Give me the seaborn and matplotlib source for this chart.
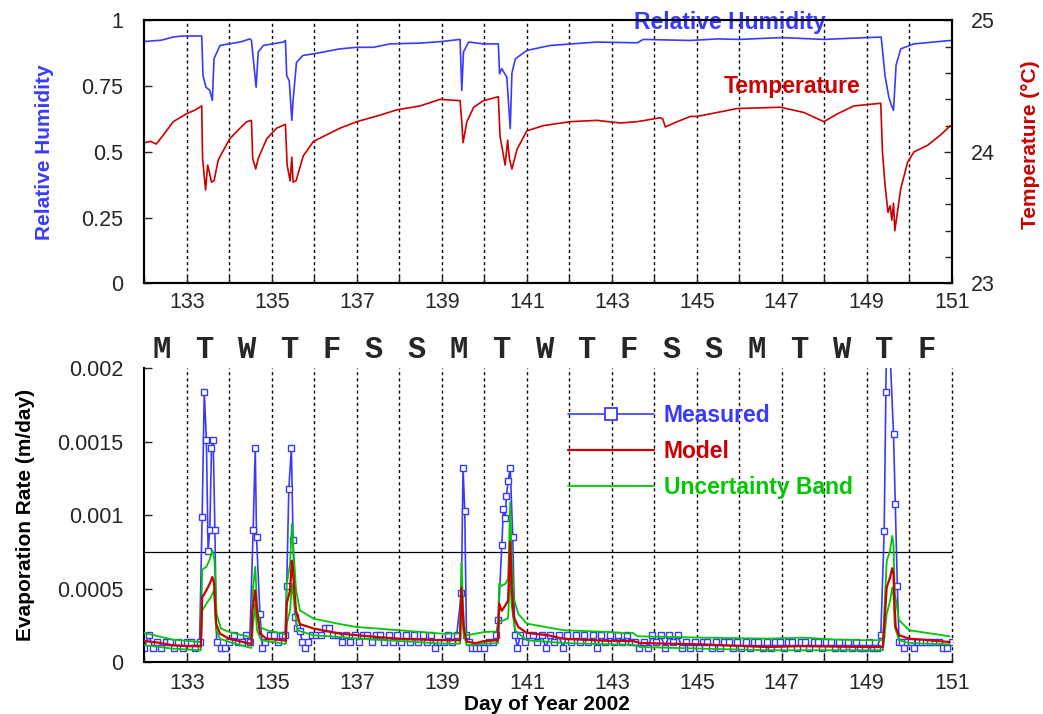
import numpy as np
import pandas as pd
import matplotlib
matplotlib.use("Agg")
import matplotlib.pyplot as plt
import matplotlib.transforms as mtransforms
from matplotlib.lines import Line2D
import seaborn as sns

# ---------------- data ----------------
rh_day = [132.0, 132.4, 132.68, 132.9, 133.35, 133.38, 133.45, 133.54, 133.6, 133.64,
          133.78, 134.0, 134.3, 134.48, 134.52, 134.63, 134.68, 134.8, 135.27, 135.32,
          135.35, 135.41, 135.47, 135.5, 135.58, 135.73, 135.98, 136.6, 137.0, 137.39,
          137.78, 138.49, 139.0, 139.43, 139.47, 139.51, 139.63, 139.98, 140.33, 140.36,
          140.41, 140.53, 140.61, 140.65, 140.73, 141.0, 141.55, 142.65, 143.6, 143.74,
          144.85, 145.5, 146.0, 147.0, 148.0, 149.0, 149.34, 149.43, 149.52, 149.58,
          149.63, 149.69, 149.8, 150.11, 150.97]
rh_val = [0.920, 0.925, 0.937, 0.941, 0.941, 0.79, 0.746, 0.734, 0.696, 0.855,
          0.905, 0.911, 0.920, 0.930, 0.925, 0.746, 0.88, 0.905, 0.918, 0.924,
          0.79, 0.77, 0.62, 0.696, 0.84, 0.867, 0.873, 0.892, 0.898, 0.898,
          0.911, 0.914, 0.920, 0.928, 0.734, 0.88, 0.918, 0.911, 0.911, 0.797,
          0.817, 0.784, 0.589, 0.80, 0.854, 0.886, 0.905, 0.918, 0.915, 0.928,
          0.924, 0.930, 0.928, 0.935, 0.928, 0.935, 0.937, 0.79, 0.708, 0.677,
          0.658, 0.83, 0.892, 0.911, 0.924]

temp_day = [132.0, 132.15, 132.28, 132.45, 132.68, 132.99, 133.2, 133.35, 133.37, 133.44,
            133.49, 133.54, 133.58, 133.64, 133.74, 134.01, 134.25, 134.41, 134.52, 134.55,
            134.62, 134.68, 134.88, 135.11, 135.32, 135.36, 135.43, 135.47, 135.50, 135.57,
            135.74, 135.98, 136.6, 137.0, 137.55, 137.94, 138.49, 138.96, 139.43, 139.47,
            139.5, 139.59, 139.75, 139.98, 140.33, 140.37, 140.49, 140.55, 140.59, 140.65,
            140.77, 141.0, 141.39, 142.02, 142.65, 143.2, 143.6, 144.14, 144.2, 144.26,
            144.54, 144.85, 145.01, 145.95, 146.97, 147.52, 147.99, 148.31, 148.70, 149.33,
            149.37, 149.43, 149.50, 149.55, 149.59, 149.63, 149.66, 149.80, 149.96, 150.11,
            150.43, 150.74, 150.97]
temp_val = [24.07, 24.08, 24.06, 24.13, 24.23, 24.29, 24.32, 24.35, 23.95, 23.71,
            23.90, 23.83, 23.77, 23.78, 23.94, 24.10, 24.18, 24.23, 24.24, 23.95,
            23.87, 23.95, 24.10, 24.18, 24.21, 23.90, 23.78, 23.96, 23.77, 23.78,
            23.97, 24.08, 24.18, 24.23, 24.28, 24.32, 24.35, 24.40, 24.39, 24.23,
            24.07, 24.23, 24.34, 24.39, 24.42, 24.12, 23.90, 24.09, 23.95, 23.87,
            24.02, 24.16, 24.20, 24.23, 24.24, 24.22, 24.23, 24.26, 24.25, 24.19,
            24.23, 24.27, 24.27, 24.33, 24.34, 24.30, 24.23, 24.29, 24.35, 24.37,
            24.00, 23.75, 23.54, 23.59, 23.48, 23.61, 23.40, 23.72, 23.92, 24.00,
            24.05, 24.13, 24.20]

# measured evaporation rate, units of 1e-4 m/day
RATE_UNIT = 1e-4
meas_day = (list(np.round(np.arange(132.0, 133.31, 0.1), 2))
            + [133.36, 133.41, 133.46, 133.50, 133.54, 133.58, 133.62, 133.66, 133.70,
               133.8, 133.9, 134.0, 134.1, 134.2, 134.3, 134.4, 134.48,
               134.56, 134.61, 134.64, 134.72, 134.78,
               134.85, 134.95, 135.05, 135.15, 135.25, 135.31,
               135.35, 135.40, 135.46, 135.50, 135.54, 135.60, 135.66, 135.72, 135.78]
            + list(np.round(np.arange(135.85, 139.36, 0.1), 2))
            + [139.46, 139.50, 139.54, 139.58,
               139.65, 139.72, 139.8, 139.9, 140.0, 140.1, 140.2, 140.28,
               140.33, 140.41, 140.45, 140.49, 140.52, 140.56, 140.61, 140.67, 140.72,
               140.78, 140.85, 140.95]
            + list(np.round(np.arange(141.05, 149.26, 0.1), 2))
            + [149.33, 149.41, 149.45, 149.50, 149.55, 149.63, 149.67, 149.72,
               149.76, 149.82, 149.88, 149.95, 150.05, 150.12, 150.2, 150.3, 150.4,
               150.5, 150.6, 150.7, 150.8, 150.9, 151.0])
meas_rate_e4 = ([1.0, 1.85, 1.0, 1.4, 1.0, 1.4, 1.4, 1.0, 1.4, 1.0, 1.4, 1.4, 1.0, 1.4]
                + [9.9, 18.4, 15.1, 7.6, 9.0, 14.6, 15.1, 9.0, 1.4,
                   1.0, 1.0, 1.4, 1.85, 1.4, 1.4, 1.85, 1.4,
                   9.0, 14.6, 8.5, 3.3, 1.0,
                   1.4, 1.85, 1.85, 1.4, 1.85, 1.85,
                   5.2, 11.8, 14.6, 8.3, 3.1, 2.3, 2.1, 1.4, 1.0]
                + [1.4, 1.85, 1.85, 1.85, 2.3, 2.3, 1.85, 1.85, 1.4, 1.85,
                   1.4, 1.85, 1.4, 1.85, 1.85, 1.4, 1.85, 1.85, 1.4, 1.85,
                   1.4, 1.85, 1.4, 1.85, 1.4, 1.85, 1.4, 1.85, 1.4, 1.85,
                   1.0, 1.4, 1.4, 1.85, 1.4, 1.85]
                + [4.7, 13.2, 10.3, 1.85,
                   1.4, 1.0, 1.0, 1.0, 1.0, 1.4, 1.4, 1.85,
                   2.9, 8.0, 10.4, 9.8, 11.3, 12.3, 13.2, 8.5, 1.85,
                   1.0, 1.85, 1.4]
                + [1.85, 1.85, 1.4, 1.85, 1.0, 1.85, 1.4, 1.85, 1.0, 1.85,
                   1.4, 1.85, 1.4, 1.85, 1.4, 1.85, 1.0, 1.85, 1.4, 1.85,
                   1.4, 1.85, 1.4, 1.85, 1.4, 1.4, 1.0, 1.4, 1.0, 1.85,
                   1.4, 1.85, 1.0, 1.85, 1.4, 1.85, 1.0, 1.4, 1.0, 1.4,
                   1.0, 1.4, 1.4, 1.0, 1.4, 1.0, 1.4, 1.4, 1.0, 1.4,
                   1.0, 1.4, 1.0, 1.4, 1.4, 1.0, 1.4, 1.0, 1.4, 1.4,
                   1.0, 1.4, 1.4, 1.0, 1.4, 1.4, 1.0, 1.4, 1.4, 1.0,
                   1.4, 1.4, 1.0, 1.4, 1.0, 1.4, 1.0, 1.4, 1.0, 1.0,
                   1.4, 1.0, 1.0]
                + [1.85, 8.9, 18.4, 28.0, 21.0, 15.5, 10.8, 5.2,
                   1.4, 1.4, 1.0, 1.4, 1.4, 1.0, 1.4, 1.4, 1.4,
                   1.4, 1.4, 1.4, 1.0, 1.0, 1.4])

model_day = [132.0, 132.3, 132.67, 133.0, 133.33, 133.36, 133.46, 133.54, 133.6, 133.64,
             133.69, 133.78, 134.0, 134.48, 134.52, 134.54, 134.61, 134.65, 134.72, 134.88,
             135.27, 135.33, 135.35, 135.43, 135.47, 135.5, 135.57, 135.66, 135.98, 136.6,
             137.0, 138.0, 139.0, 139.43, 139.46, 139.52, 139.59, 139.8, 140.0, 140.32,
             140.35, 140.41, 140.5, 140.56, 140.61, 140.64, 140.69, 140.8, 141.0, 141.5,
             141.87, 142.97, 143.5, 143.67, 145.1, 146.66, 147.45, 149.0, 149.38, 149.47,
             149.55, 149.6, 149.63, 149.65, 149.68, 149.76, 150.0, 150.95]
model_e4 = [1.45, 1.35, 1.16, 1.1, 1.09, 4.4, 4.9, 5.35, 5.8, 5.4,
            2.6, 1.95, 1.6, 1.27, 1.25, 3.5, 4.9, 3.5, 1.95, 1.6,
            1.5, 1.45, 4.0, 4.9, 6.9, 6.0, 3.5, 2.6, 2.3, 1.95,
            1.84, 1.6, 1.5, 1.5, 5.1, 2.2, 1.4, 1.3, 1.45, 1.5,
            4.0, 3.5, 3.9, 4.2, 8.2, 5.4, 3.1, 2.4, 2.0, 1.84,
            1.6, 1.45, 1.45, 1.31, 1.22, 1.04, 1.1, 1.04, 1.04, 5.1,
            5.8, 6.4, 6.0, 4.2, 2.4, 1.84, 1.61, 1.38]

band_hi_day = [132.0, 132.67, 133.33, 133.36, 133.46, 133.54, 133.6, 133.65, 133.7, 133.8,
               134.0, 134.48, 134.52, 134.56, 134.61, 134.65, 134.72, 134.88, 135.27, 135.33,
               135.35, 135.43, 135.47, 135.5, 135.57, 135.66, 135.98, 136.6, 137.0, 138.0,
               139.0, 139.43, 139.46, 139.52, 139.59, 140.0, 140.32, 140.35, 140.41, 140.5,
               140.56, 140.61, 140.64, 140.69, 140.8, 141.0, 141.87, 142.97, 143.4, 143.5,
               143.6, 145.1, 146.66, 147.5, 148.23, 149.0, 149.38, 149.47, 149.55, 149.6,
               149.63, 149.66, 149.76, 150.0, 150.95]
band_hi_e4 = [2.0, 1.54, 1.38, 6.3, 6.5, 7.0, 7.6, 7.0, 3.3, 2.3,
              2.06, 1.72, 1.7, 5.1, 6.5, 4.0, 2.4, 2.18, 1.95, 1.9,
              5.35, 6.7, 9.4, 8.1, 4.9, 3.54, 2.97, 2.6, 2.4, 2.18,
              1.95, 1.95, 6.8, 2.5, 1.84, 2.06, 2.1, 5.35, 5.2, 5.35,
              5.7, 10.9, 7.6, 4.4, 3.3, 2.63, 2.18, 2.06, 1.95, 2.0,
              1.77, 1.68, 1.61, 1.68, 1.55, 1.5, 1.5, 6.9, 7.6, 8.6,
              8.0, 4.7, 2.86, 2.18, 1.77]

band_lo_day = [132.0, 132.67, 133.33, 133.36, 133.46, 133.56, 133.64, 133.69, 133.78, 134.0,
               134.48, 134.52, 134.56, 134.61, 134.65, 134.75, 135.27, 135.33, 135.35, 135.43,
               135.47, 135.53, 135.6, 135.98, 136.6, 137.0, 138.0, 139.0, 139.43, 139.46,
               139.52, 139.59, 140.0, 140.32, 140.35, 140.41, 140.56, 140.61, 140.64, 140.72,
               141.0, 141.87, 142.97, 143.5, 143.67, 145.1, 146.66, 149.0, 149.38, 149.47,
               149.55, 149.6, 149.63, 149.66, 149.76, 150.0, 150.95]
band_lo_e4 = [1.16, 0.93, 0.82, 3.5, 4.0, 4.4, 4.9, 2.2, 1.6, 1.38,
              1.0, 0.98, 2.6, 4.0, 2.2, 1.5, 1.27, 1.25, 2.6, 3.54,
              5.35, 4.0, 2.18, 1.84, 1.72, 1.61, 1.45, 1.27, 1.27, 3.8,
              1.8, 1.16, 1.27, 1.3, 2.9, 2.8, 3.0, 6.3, 3.99, 2.18,
              1.5, 1.31, 1.22, 1.2, 1.04, 0.93, 0.82, 0.82, 0.82, 3.3,
              4.2, 5.1, 4.5, 2.4, 1.5, 1.31, 1.22]

threshold_rate = 0.00075
day_letters = ["M", "T", "W", "T", "F", "S", "S", "M", "T", "W",
               "T", "F", "S", "S", "M", "T", "W", "T", "F"]
day_letter_pos = [132.4, 133.4, 134.4, 135.4, 136.4, 137.4, 138.4, 139.4, 140.4, 141.4,
                  142.4, 143.4, 144.4, 145.4, 146.4, 147.4, 148.4, 149.4, 150.4]
x_ticks = [133, 135, 137, 139, 141, 143, 145, 147, 149, 151]
rh_ticks = [0, 0.25, 0.5, 0.75, 1]
rh_tick_labels = ["0", "0.25", "0.5", "0.75", "1"]
temp_ticks = [23, 24, 25]
rate_ticks = [0, 0.0005, 0.001, 0.0015, 0.002]
rate_tick_labels = ["0", "0.0005", "0.001", "0.0015", "0.002"]

# ---------------- style ----------------
BLUE = "#3a3aff"
RED = "#cc0000"
GREEN = "#00c800"

sns.set_theme(style="white")
plt.rcParams["font.family"] = ["Liberation Sans", "DejaVu Sans"]
plt.rcParams["axes.linewidth"] = 1.5

fig = plt.figure(figsize=(10.43, 7.14), dpi=100)
ax_top = fig.add_axes([0.1384, 0.6032, 0.7741, 0.3681])
ax_tmp = ax_top.twinx()
ax_bot = fig.add_axes([0.1384, 0.0724, 0.7741, 0.4118])

TICK_FS = 15.5

# ---------------- top panel ----------------
for d in range(133, 151):
    ax_top.axvline(d, color="black", lw=1.0, ls=(0, (2.2, 2.2)), zorder=0)

sns.lineplot(x=rh_day, y=rh_val, ax=ax_top, color=BLUE, lw=1.2,
             estimator=None, sort=False)
sns.lineplot(x=temp_day, y=temp_val, ax=ax_tmp, color=RED, lw=1.2,
             estimator=None, sort=False)

ax_top.set_xlim(132, 151)
ax_top.set_ylim(0, 1)
ax_tmp.set_ylim(23, 25)
ax_top.set_xticks(x_ticks)
ax_top.set_xticks(range(132, 152), minor=True)
ax_top.set_yticks(rh_ticks)
ax_top.set_yticklabels(rh_tick_labels)
ax_tmp.set_yticks(temp_ticks)
ax_tmp.set_yticks(np.arange(23, 25.01, 0.2), minor=True)
ax_top.tick_params(axis="x", which="both", direction="in", length=5, width=1,
                   labelsize=TICK_FS, pad=6, bottom=True)
ax_top.tick_params(axis="y", which="both", direction="in", length=6, width=1,
                   labelsize=TICK_FS, pad=15, left=True)
ax_tmp.tick_params(axis="y", which="both", direction="in", length=6, width=1,
                   labelsize=TICK_FS, pad=14, right=True)
ax_tmp.tick_params(axis="y", which="minor", length=5)
for a in (ax_top, ax_tmp):
    a.set_xlabel("")
    a.set_ylabel("")
    for s in a.spines.values():
        s.set_linewidth(1.5)
        s.set_color("black")

ax_top.text(0.7254, 0.992, "Relative Humidity", transform=ax_top.transAxes,
            color=BLUE, fontsize=16.5, fontweight="bold", ha="center", va="center")
ax_top.text(0.8028, 0.747, "Temperature", transform=ax_top.transAxes,
            color=RED, fontsize=16.5, fontweight="bold", ha="center", va="center")

fig.text(45 / 1043, 1 - 152 / 714, "Relative Humidity", rotation=90, color=BLUE,
         fontsize=15, fontweight="bold", ha="center", va="center")
fig.text(1030 / 1043, 1 - 145 / 714, "Temperature (°C)", rotation=90, color=RED,
         fontsize=15, fontweight="bold", ha="center", va="center")

# ---------------- bottom panel ----------------
for d in range(133, 152):
    ax_bot.axvline(d, color="black", lw=1.0, ls=(0, (2.2, 2.2)), zorder=0,
                   clip_on=False)
ax_bot.axhline(threshold_rate, color="black", lw=0.9, zorder=1)

meas_df = pd.DataFrame({"day": meas_day,
                        "rate": np.array(meas_rate_e4) * RATE_UNIT})
sns.lineplot(data=meas_df, x="day", y="rate", ax=ax_bot, color=BLUE, lw=1.2,
             marker="s", markersize=4.2, markerfacecolor="white",
             markeredgecolor=BLUE, markeredgewidth=1.0,
             estimator=None, sort=False, zorder=2)
sns.lineplot(x=band_hi_day, y=np.array(band_hi_e4) * RATE_UNIT, ax=ax_bot,
             color=GREEN, lw=1.3, estimator=None, sort=False, zorder=3)
sns.lineplot(x=band_lo_day, y=np.array(band_lo_e4) * RATE_UNIT, ax=ax_bot,
             color=GREEN, lw=1.3, estimator=None, sort=False, zorder=3)
sns.lineplot(x=model_day, y=np.array(model_e4) * RATE_UNIT, ax=ax_bot,
             color=RED, lw=1.6, estimator=None, sort=False, zorder=4)

ax_bot.set_xlim(132, 151)
ax_bot.set_ylim(0, 0.002)
ax_bot.set_xticks(x_ticks)
ax_bot.set_xticks(range(132, 152), minor=True)
ax_bot.set_yticks(rate_ticks)
ax_bot.set_yticklabels(rate_tick_labels)
ax_bot.tick_params(axis="x", which="both", direction="in", length=5, width=1,
                   labelsize=TICK_FS, pad=8, bottom=True)
ax_bot.tick_params(axis="y", which="both", direction="in", length=6, width=1,
                   labelsize=TICK_FS, pad=15, left=True)
ax_bot.spines["top"].set_visible(False)
ax_bot.spines["right"].set_visible(False)
for s in ("left", "bottom"):
    ax_bot.spines[s].set_linewidth(1.5)
    ax_bot.spines[s].set_color("black")
ax_bot.set_ylabel("")
ax_bot.set_xlabel("")

trans = mtransforms.blended_transform_factory(ax_bot.transData, ax_bot.transAxes)
for pos, letter in zip(day_letter_pos, day_letters):
    ax_bot.text(pos, 1.062, letter, transform=trans, ha="center", va="center",
                fontsize=22, fontweight="bold",
                family=["Liberation Mono", "DejaVu Sans Mono"])

fig.text(26 / 1043, 1 - 515 / 714, "Evaporation Rate (m/day)", rotation=90,
         color="black", fontsize=15, fontweight="bold", ha="center", va="center")
fig.text(547 / 1043, 1 - 704 / 714, "Day of Year 2002", color="black",
         fontsize=15, fontweight="bold", ha="center", va="center")

handles = [
    Line2D([], [], color=BLUE, lw=1.2, marker="s", markersize=9,
           markerfacecolor="white", markeredgecolor=BLUE, markeredgewidth=1.3),
    Line2D([], [], color=RED, lw=1.6),
    Line2D([], [], color=GREEN, lw=1.3),
]
leg = ax_bot.legend(handles, ["Measured", "Model", "Uncertainty Band"],
                    loc="upper left", bbox_to_anchor=(0.5244, 0.879),
                    frameon=False, handlelength=3.75, handletextpad=0.45,
                    labelspacing=0.57, borderpad=0, borderaxespad=0,
                    numpoints=1, prop={"weight": "bold", "size": 16.5})
for txt, col in zip(leg.get_texts(), [BLUE, RED, GREEN]):
    txt.set_color(col)

fig.savefig("out.png", dpi=100)
